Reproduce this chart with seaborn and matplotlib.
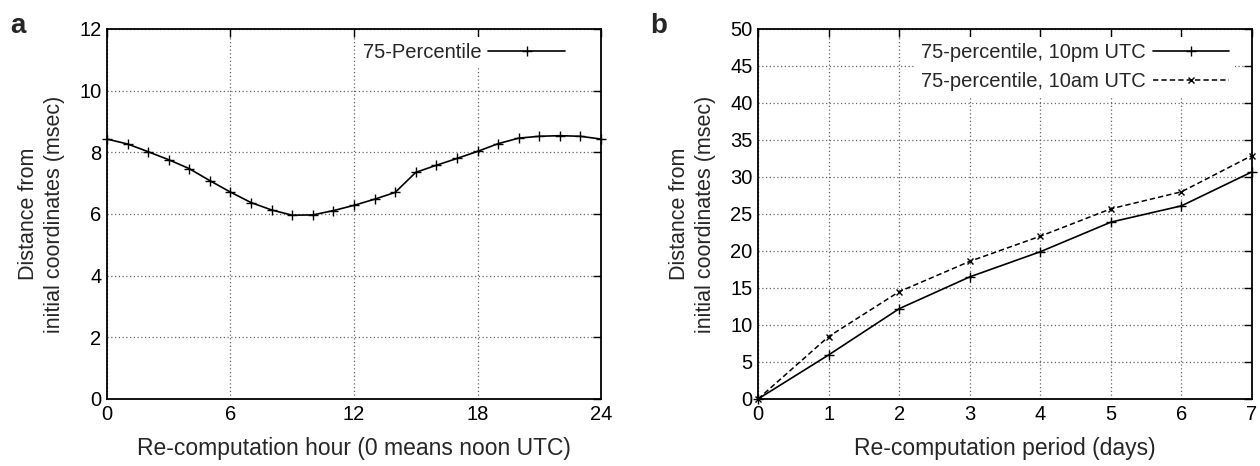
import numpy as np
import pandas as pd
import matplotlib
matplotlib.use("Agg")
import matplotlib.pyplot as plt
import seaborn as sns

# ---- data ----
hours = list(range(0, 25))
pct75_hour = [8.43, 8.27, 8.02, 7.76, 7.47, 7.08, 6.71, 6.37, 6.13, 5.96, 5.97,
              6.11, 6.28, 6.48, 6.70, 7.35, 7.58, 7.80, 8.03, 8.28, 8.46, 8.52,
              8.54, 8.52, 8.43]

days = [0, 1, 2, 3, 4, 5, 6, 7]
pct75_10pm = [0.0, 5.95, 12.2, 16.5, 19.9, 23.9, 26.1, 30.7]
pct75_10am = [0.0, 8.43, 14.5, 18.6, 22.0, 25.7, 28.0, 32.9]

label_a = "75-Percentile"
label_b1 = "75-percentile, 10pm UTC"
label_b2 = "75-percentile, 10am UTC"
xlabel_a = "Re-computation hour (0 means noon UTC)"
xlabel_b = "Re-computation period (days)"
ylabel = "Distance from\ninitial coordinates (msec)"

sns.set_style("white")
plt.rcParams['font.family'] = ['Liberation Sans', 'DejaVu Sans']
FS_TICK = 14.5
FS_LEG = 14.5
FS_XL = 16.5
FS_YL = 15.5

fig = plt.figure(figsize=(12.6, 4.66), dpi=100)
ax1 = fig.add_axes([0.0849, 0.1438, 0.3921, 0.794])
ax2 = fig.add_axes([0.6016, 0.1438, 0.3921, 0.794])

df_a = pd.DataFrame({"hour": hours, "val": pct75_hour, "s": label_a})
df_b = pd.concat([
    pd.DataFrame({"day": days, "val": pct75_10pm, "s": label_b1}),
    pd.DataFrame({"day": days, "val": pct75_10am, "s": label_b2}),
])

mk = dict(markeredgecolor="black", markerfacecolor="black", markeredgewidth=1.0)

sns.lineplot(data=df_a, x="hour", y="val", ax=ax1, color="black", lw=1.2,
             marker="+", markersize=6.5, label=label_a, clip_on=False, **mk)

sns.lineplot(data=df_b[df_b.s == label_b1], x="day", y="val", ax=ax2, color="black",
             lw=1.2, marker="+", markersize=6.5, label=label_b1, clip_on=False, **mk)
sns.lineplot(data=df_b[df_b.s == label_b2], x="day", y="val", ax=ax2, color="black",
             lw=1.1, marker="x", markersize=5, dashes=False,
             linestyle=(0, (3.5, 2)), label=label_b2, clip_on=False, **mk)

def style(ax, xlim, xticks, ylim, yticks, xlabel):
    ax.set_xlim(*xlim)
    ax.set_ylim(*ylim)
    ax.set_xticks(xticks)
    ax.set_yticks(yticks)
    ax.grid(True, color="#666666", linestyle=(0, (1, 2)), linewidth=0.9)
    ax.set_axisbelow(True)
    for sp in ax.spines.values():
        sp.set_visible(True)
        sp.set_color("black")
        sp.set_linewidth(1.3)
    ax.tick_params(direction="in", length=6, width=1.0, top=True, right=True,
                   labelsize=FS_TICK, pad=4, colors="black")
    ax.set_xlabel(xlabel, fontsize=FS_XL, labelpad=10)
    ax.set_ylabel(ylabel, fontsize=FS_YL, labelpad=10, linespacing=1.35)

style(ax1, (0, 24), [0, 6, 12, 18, 24], (0, 12), [0, 2, 4, 6, 8, 10, 12], xlabel_a)
style(ax2, (0, 7), list(range(8)), (0, 50), list(range(0, 51, 5)), xlabel_b)

ax1.legend(loc="upper right", bbox_to_anchor=(0.947, 0.99), fontsize=FS_LEG,
           markerfirst=False, handlelength=3.8, frameon=True, framealpha=1,
           facecolor="white", edgecolor="none", borderpad=0.3, labelspacing=0.5,
           handletextpad=0.35, borderaxespad=0.2, fancybox=False)
ax2.legend(loc="upper right", bbox_to_anchor=(0.974, 0.99), fontsize=FS_LEG,
           markerfirst=False, handlelength=3.8, frameon=True, framealpha=1,
           facecolor="white", edgecolor="none", borderpad=0.3, labelspacing=0.5,
           handletextpad=0.35, borderaxespad=0.2, fancybox=False)

fig.text(0.008, 0.93, "a", fontsize=20, fontweight="bold")
fig.text(0.516, 0.93, "b", fontsize=20, fontweight="bold")

fig.savefig("out.png", dpi=100)
